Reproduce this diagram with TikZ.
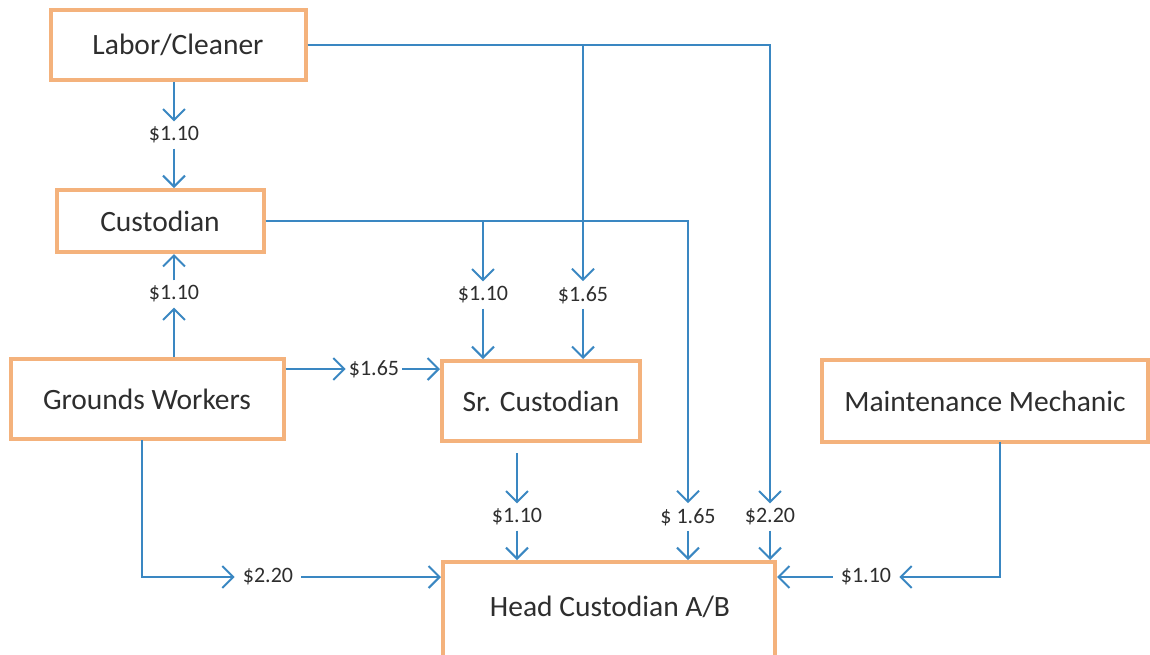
\documentclass[tikz,border=0pt]{standalone}
\usepackage{fontspec}
\setmainfont{Carlito}
\usetikzlibrary{arrows.meta}
\definecolor{boxc}{HTML}{F4B27C}
\definecolor{linec}{HTML}{3A87C2}
\definecolor{txtc}{HTML}{2E2E2E}
\tikzset{
  box/.style={draw=boxc, line width=4pt, fill=white, text=txtc, font=\fontsize{29.5}{34}\selectfont, inner sep=0pt},
  lbl/.style={text=txtc, font=\fontsize{22}{26}\selectfont, inner xsep=3pt, inner ysep=5pt},
  conn/.style={draw=linec, line width=2pt, -{Straight Barb[length=11pt,width=22pt]}},
  plain/.style={draw=linec, line width=2pt}
}
\begin{document}
\begin{tikzpicture}[x=1pt,y=-1pt]
\useasboundingbox (0,0) rectangle (1150,654);
\fill[white] (0,0) rectangle (1150,654);
% boxes
\node[box, minimum width=255pt, minimum height=70pt] (labor) at (178,45) {Labor/Cleaner};
\node[box, minimum width=207pt, minimum height=62pt] (cust) at (160,221) {Custodian};
\node[box, minimum width=273pt, minimum height=80pt] (gw) at (147,399) {Grounds Workers};
\node[box, minimum width=198pt, minimum height=80pt] (sr) at (541,401) {Sr. Custodian};
\node[box, minimum width=326pt, minimum height=82pt] (mm) at (985,401) {Maintenance Mechanic};
\node[box, minimum width=332pt, minimum height=110pt, text depth=0pt] (head) at (609,617) {};
\node[text=txtc, font=\fontsize{29.5}{34}\selectfont] (headt) at (610,607) {Head Custodian A/B};
% labels
\node[lbl] (l1) at (174,135) {\$1.10};
\node[lbl] (l2) at (174,294) {\$1.10};
\node[lbl] (l3) at (483,295) {\$1.10};
\node[lbl] (l4) at (583,295) {\$1.65};
\node[lbl] (l5) at (374,369) {\$1.65};
\node[lbl] (l6) at (517,517) {\$1.10};
\node[lbl] (l7) at (688,517) {\$ 1.65};
\node[lbl] (l8) at (770,517) {\$2.20};
\node[lbl, inner xsep=8pt] (l9) at (268,577) {\$2.20};
\node[lbl, inner xsep=8pt] (l10) at (866,577) {\$1.10};
\coordinate (gwc) at (142,440);
\coordinate (mmc) at (1000,442);
% Labor -> Custodian
\draw[conn] (labor.south -| l1) -- (l1.north);
\draw[conn] (l1.south) -- (l1 |- cust.north);
% Grounds -> Custodian
\draw[conn] (gw.north -| l2) -- (l2.south);
\draw[conn] (l2.north) -- (l2 |- cust.south);
% Labor -> Sr Custodian
\draw[conn] (labor.east) -| (l4.north);
\draw[conn] (l4.south) -- (l4 |- sr.north);
% Labor -> Head
\draw[conn] (labor.east) -| (l8.north);
\draw[conn] (l8.south) -- (l8 |- head.north);
% Custodian -> Sr Custodian
\draw[conn] (cust.east) -| (l3.north);
\draw[conn] (l3.south) -- (l3 |- sr.north);
% Custodian -> Head
\draw[conn] (cust.east) -| (l7.north);
\draw[conn] (l7.south) -- (l7 |- head.north);
% Grounds -> Sr Custodian
\draw[conn] (gw.east |- l5) -- (l5.west);
\draw[conn] (l5.east) -- (sr.west |- l5);
% Sr Custodian -> Head
\draw[conn, shorten <=10pt] (sr.south -| l6) -- (l6.north);
\draw[conn] (l6.south) -- (l6 |- head.north);
% Grounds -> Head
\draw[conn] (gwc) |- (l9.west);
\draw[conn] (l9.east) -- (head.west |- l9);
% Maintenance -> Head
\draw[conn] (mmc) |- (l10.east);
\draw[conn] (l10.west) -- (head.east |- l10);
\end{tikzpicture}
\end{document}
